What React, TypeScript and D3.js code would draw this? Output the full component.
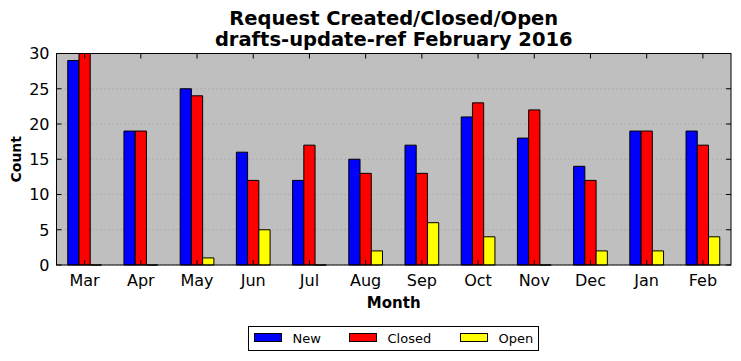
import React, { useEffect, useRef } from "react";
import * as d3 from "d3";

const months = ["Mar", "Apr", "May", "Jun", "Jul", "Aug", "Sep", "Oct", "Nov", "Dec", "Jan", "Feb"];
const newCounts = [29, 19, 25, 16, 12, 15, 17, 21, 18, 14, 19, 19];
const closedCounts = [30, 19, 24, 12, 17, 13, 13, 23, 22, 12, 19, 17];
const openCounts = [0, 0, 1, 5, 0, 2, 6, 4, 0, 2, 2, 4];
const yTicks = [0, 5, 10, 15, 20, 25, 30];

const seriesNames = ["New", "Closed", "Open"];
const seriesColors = ["#0000ff", "#ff0000", "#ffff00"];

const W = 741;
const H = 361;
const margin = { top: 53.5, right: 10, bottom: 96, left: 56.5 };
const font = "'DejaVu Sans', sans-serif";

export default function App() {
  const ref = useRef<SVGSVGElement>(null);

  useEffect(() => {
    document.body.style.margin = "0";
    const svg = d3.select(ref.current);
    svg.selectAll("*").remove();

    const x = d3.scaleLinear().domain([-0.5, 11.5]).range([margin.left, W - margin.right]);
    const y = d3.scaleLinear().domain([0, 30]).range([H - margin.bottom, margin.top]);
    const x0 = margin.left, x1 = W - margin.right, y0 = H - margin.bottom, y1 = margin.top;

    svg.append("rect")
      .attr("x", x0).attr("y", y1)
      .attr("width", x1 - x0).attr("height", y0 - y1)
      .attr("fill", "#bfbfbf");

    // dotted grid
    svg.append("g").selectAll("line").data(yTicks).join("line")
      .attr("x1", x0).attr("x2", x1)
      .attr("y1", (d) => y(d)).attr("y2", (d) => y(d))
      .attr("stroke", "#8a8a8a").attr("stroke-width", 0.6)
      .attr("stroke-dasharray", "1,3");

    const series = [newCounts, closedCounts, openCounts];
    const bw = 0.2;
    series.forEach((vals, s) => {
      svg.append("g").selectAll("path").data(vals).join("path")
        .attr("d", (d, i) => {
          const l = x(i - 0.3 + s * bw);
          const r = x(i - 0.3 + (s + 1) * bw);
          return `M${l},${y(0)}V${y(d)}H${r}V${y(0)}Z`;
        })
        .attr("fill", seriesColors[s])
        .attr("stroke", "#000").attr("stroke-width", 1);
    });

    // frame
    svg.append("rect")
      .attr("x", x0).attr("y", y1)
      .attr("width", x1 - x0).attr("height", y0 - y1)
      .attr("fill", "none").attr("stroke", "#000").attr("stroke-width", 1);

    // ticks inside on all sides
    const tk = svg.append("g").attr("stroke", "#000").attr("stroke-width", 1);
    months.forEach((m, i) => {
      tk.append("line").attr("x1", x(i)).attr("x2", x(i)).attr("y1", y0).attr("y2", y0 - 5);
      tk.append("line").attr("x1", x(i)).attr("x2", x(i)).attr("y1", y1).attr("y2", y1 + 5);
    });
    yTicks.forEach((t) => {
      tk.append("line").attr("x1", x0).attr("x2", x0 + 5).attr("y1", y(t)).attr("y2", y(t));
      tk.append("line").attr("x1", x1).attr("x2", x1 - 5).attr("y1", y(t)).attr("y2", y(t));
    });

    svg.append("g").selectAll("text").data(months).join("text")
      .attr("x", (d, i) => x(i)).attr("y", y0 + 21)
      .attr("text-anchor", "middle")
      .attr("font-family", font).attr("font-size", 16)
      .text((d) => d);

    svg.append("g").selectAll("text").data(yTicks).join("text")
      .attr("x", x0 - 7).attr("y", (d) => y(d))
      .attr("dy", "0.36em")
      .attr("text-anchor", "end")
      .attr("font-family", font).attr("font-size", 16)
      .text((d) => d);

    svg.append("text")
      .attr("x", (x0 + x1) / 2).attr("y", 308)
      .attr("text-anchor", "middle")
      .attr("font-family", font).attr("font-size", 15).attr("font-weight", "bold")
      .text("Month");

    svg.append("text")
      .attr("transform", `translate(21,${(y0 + y1) / 2}) rotate(-90)`)
      .attr("text-anchor", "middle")
      .attr("font-family", font).attr("font-size", 14).attr("font-weight", "bold")
      .text("Count");

    const titles = ["Request Created/Closed/Open", "drafts-update-ref February 2016"];
    svg.append("g").selectAll("text").data(titles).join("text")
      .attr("x", (x0 + x1) / 2).attr("y", (d, i) => 25 + i * 21)
      .attr("text-anchor", "middle")
      .attr("font-family", font).attr("font-size", 19.5).attr("font-weight", "bold")
      .text((d) => d);

    // legend
    const lg = svg.append("g");
    lg.append("rect")
      .attr("x", 248.5).attr("y", 326.5).attr("width", 290).attr("height", 24)
      .attr("fill", "#fff").attr("stroke", "#000").attr("stroke-width", 1);
    const lx = [254.5, 349.5, 460.5];
    seriesNames.forEach((n, i) => {
      lg.append("rect")
        .attr("x", lx[i]).attr("y", 333.5).attr("width", 27).attr("height", 8)
        .attr("fill", seriesColors[i]).attr("stroke", "#000").attr("stroke-width", 1);
      lg.append("text")
        .attr("x", lx[i] + 38).attr("y", 343)
        .attr("font-family", font).attr("font-size", 13)
        .text(n);
    });
  }, []);

  return <svg ref={ref} width={W} height={H} style={{ display: "block" }} />;
}
